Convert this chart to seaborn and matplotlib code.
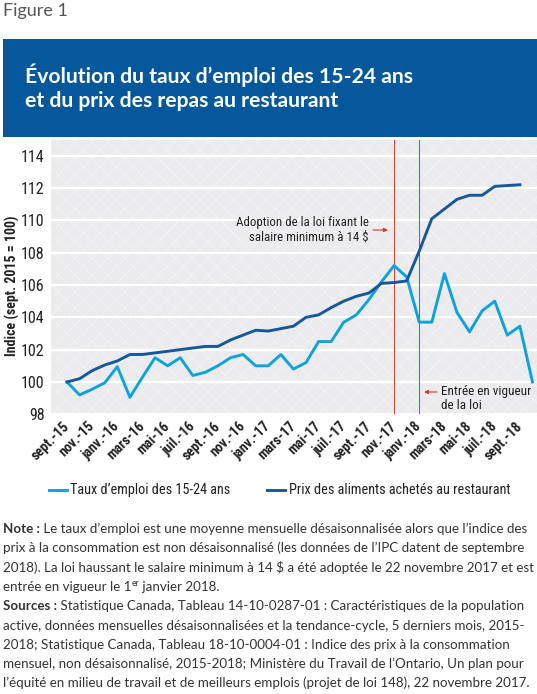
import numpy as np
import pandas as pd
import matplotlib
matplotlib.use("Agg")
import matplotlib.pyplot as plt
import seaborn as sns
from matplotlib import font_manager as fm
from matplotlib.lines import Line2D
from matplotlib.patches import Rectangle

# ---------------- data ----------------
tick_labels = ["sept.-15", "nov.-15", "janv.-16", "mars-16", "mai-16", "juil.-16",
               "sept.-16", "nov.-16", "janv.-17", "mars-17", "mai-17", "juil.-17",
               "sept.-17", "nov.-17", "janv.-18", "mars-18", "mai-18", "juil.-18",
               "sept.-18"]

# Taux d'emploi des 15-24 ans (sept. 2015 -> oct. 2018)
emploi = [100.0, 99.2, 99.55, 99.95, 100.95, 99.05, 100.3, 101.5, 101.0, 101.5,
          100.4, 100.6, 101.0, 101.5, 101.7, 101.0, 101.0, 101.7, 100.8, 101.2,
          102.5, 102.5, 103.7, 104.15, 105.1, 106.2, 107.2, 106.5, 103.7, 103.7,
          106.7, 104.3, 103.1, 104.4, 105.0, 102.9, 103.45, 100.0]

# Prix des aliments achetés au restaurant (sept. 2015 -> sept. 2018)
prix = [100.0, 100.2, 100.7, 101.05, 101.3, 101.7, 101.7, 101.8, 101.9, 102.0,
        102.1, 102.2, 102.2, 102.6, 102.9, 103.2, 103.15, 103.3, 103.45, 104.0,
        104.15, 104.6, 105.0, 105.3, 105.5, 106.1, 106.15, 106.25, 108.1, 110.1,
        110.7, 111.3, 111.55, 111.55, 112.1, 112.15, 112.2]

serie_emploi = "Taux d’emploi des 15-24 ans"
serie_prix = "Prix des aliments achetés au restaurant"

event_adoption = 26   # nov.-17
event_vigueur = 28    # janv.-18

# ---------------- fonts ----------------
names = {f.name for f in fm.fontManager.ttflist}
def pick(*cands):
    for c in cands:
        if c in names:
            return c
    return "DejaVu Sans"

COND = pick("Roboto Condensed", "Liberation Sans Narrow", "DejaVu Sans")
BODY = pick("Lato", "Open Sans", "DejaVu Sans")

W, H = 537, 694
fig = plt.figure(figsize=(W / 100, H / 100), dpi=100)
fig.patch.set_facecolor("white")
renderer = fig.canvas.get_renderer()

def fx(x):
    return x / W
def fy(y_top):
    return 1 - y_top / H

def text_width(txt, size, weight="normal", family=BODY):
    t = fig.text(0, 0, txt, fontsize=size, fontweight=weight, family=family, parse_math=False)
    w = t.get_window_extent(renderer).width
    t.remove()
    return w

def fit_size(txt, target_px, weight="normal", family=BODY, ref=10.0):
    return ref * target_px / text_width(txt, ref, weight, family)

# ---------------- axes ----------------
ax_l, ax_r, ax_t, ax_b = 51, 537, 139.5, 414.3
ax = fig.add_axes([fx(ax_l), fy(ax_b), (ax_r - ax_l) / W, (ax_b - ax_t) / H])
ax.set_facecolor("#ebebed")
plt.rcParams["hatch.linewidth"] = 0.5
bg = Rectangle((0, 0), 1, 1, transform=ax.transAxes, facecolor="#ebebed",
               edgecolor="#f4f4f5", hatch="xx", lw=0, zorder=0)
ax.add_patch(bg)

df = pd.concat([
    pd.DataFrame({"mois": np.arange(len(emploi)), "indice": emploi, "serie": serie_emploi}),
    pd.DataFrame({"mois": np.arange(len(prix)), "indice": prix, "serie": serie_prix}),
])
palette = {serie_emploi: "#0ea2dd", serie_prix: "#15599a"}
sns.lineplot(data=df, x="mois", y="indice", hue="serie", palette=palette,
             linewidth=2.1, legend=False, ax=ax, estimator=None, sort=False, zorder=3)

red = "#cf3a2e"
ax.axvline(event_adoption, color=red, lw=0.7, zorder=2.5)
ax.axvline(event_vigueur, color=red, lw=0.7, zorder=2.5)

s = 12.58
ax.set_xlim((ax_l - 67) / s, (ax_r - 67) / s)
ax.set_ylim(98, 115)
ax.set_yticks(np.arange(98, 115, 2))
ax.set_xticks(np.arange(0, 37, 2))
ax.set_xticklabels(tick_labels)
ax.set_axisbelow(True)
ax.yaxis.grid(True, color="white", lw=1.6)
ax.xaxis.grid(False)
for sp in ax.spines.values():
    sp.set_visible(False)
ax.tick_params(axis="both", length=0)
ax.tick_params(axis="y", pad=4.5, labelsize=11.5, labelcolor="#222222")
ax.tick_params(axis="x", pad=7, labelsize=10, labelcolor="#222222")
for t in ax.get_yticklabels():
    t.set_fontfamily(COND); t.set_fontstretch("condensed")
for t in ax.get_xticklabels():
    t.set_fontfamily(COND); t.set_fontstretch("condensed"); t.set_fontweight("bold")
    t.set_rotation(45); t.set_ha("right"); t.set_rotation_mode("anchor"); t.set_va("center")
ax.set_xlabel("")
ax.set_ylabel("")

# y label
fig.text(fx(12), fy(286), "Indice (sept. 2015 = 100)", rotation=90, ha="center", va="center",
         fontsize=10, fontweight="bold", family=COND, stretch="condensed", color="#222222")

# annotations
fig.text(fx(369), fy(230), "Adoption de la loi fixant le\nsalaire minimum à 14 $", ha="right",
         va="center", fontsize=9.3, family=COND, stretch="condensed", color="#222222",
         linespacing=1.15, parse_math=False)
fig.text(fx(441), fy(398.5), "Entrée en vigueur\nde la loi", ha="left", va="center",
         fontsize=9.5, family=COND, stretch="condensed", color="#222222",
         linespacing=1.15, parse_math=False)
ap = dict(arrowstyle="-|>", color=red, lw=0.8, mutation_scale=6, shrinkA=0, shrinkB=0)
fig.add_artist(matplotlib.patches.FancyArrowPatch((373, H - 230), (388, H - 230),
               transform=None, **ap))
fig.add_artist(matplotlib.patches.FancyArrowPatch((437, H - 392), (424, H - 392),
               transform=None, **ap))

# ---------------- header ----------------
fig_size = fit_size("Figure 1", 65)
fig.text(fx(3), fy(16), "Figure 1", ha="left", va="baseline", fontsize=fig_size,
         family=BODY, color="#555555")
fig.add_artist(Rectangle((fx(2.7), fy(136.7)), 1 - fx(2.7), (136.7 - 39.3) / H,
                         transform=fig.transFigure, facecolor="#03589b", edgecolor="none"))
title1 = "Évolution du taux d’emploi des 15-24 ans"
title2 = "et du prix des repas au restaurant"
tsize = fit_size(title1, 388, weight="bold")
fig.text(fx(25), fy(83.3), title1, ha="left", va="baseline", fontsize=tsize,
         fontweight="bold", family=BODY, color="white")
fig.text(fx(25), fy(107.3), title2, ha="left", va="baseline", fontsize=tsize,
         fontweight="bold", family=BODY, color="white")

# ---------------- legend ----------------
ly = 490
fig.add_artist(Line2D([fx(49), fx(67)], [fy(ly), fy(ly)], transform=fig.transFigure,
                      color=palette[serie_emploi], lw=2.1))
fig.text(fx(70), fy(ly), serie_emploi, ha="left", va="center", fontsize=10.3,
         family=COND, stretch="condensed", color="#222222")
fig.add_artist(Line2D([fx(267), fx(285)], [fy(ly), fy(ly)], transform=fig.transFigure,
                      color=palette[serie_prix], lw=2.1))
fig.text(fx(289), fy(ly), serie_prix, ha="left", va="center", fontsize=10.3,
         family=COND, stretch="condensed", color="#222222")

# ---------------- notes ----------------
lines = [
    [("Note :", {"weight": "bold"}), (" Le taux d’emploi est une moyenne mensuelle désaisonnalisée alors que l’indice des", {})],
    [("prix à la consommation est non désaisonnalisé (les données de l’IPC datent de septembre", {})],
    [("2018). La loi haussant le salaire minimum à 14 $ a été adoptée le 22 novembre 2017 et est", {})],
    [("entrée en vigueur le 1", {}), ("er", {"scale": 0.65, "dy": 4.5}), (" janvier 2018.", {})],
    [("Sources :", {"weight": "bold"}), (" Statistique Canada, Tableau 14-10-0287-01 : Caractéristiques de la population", {})],
    [("active, données mensuelles désaisonnalisées et la tendance-cycle, 5 derniers mois, 2015-", {})],
    [("2018; Statistique Canada, Tableau 18-10-0004-01 : Indice des prix à la consommation", {})],
    [("mensuel, non désaisonnalisé, 2015-2018; Ministère du Travail de l’Ontario, Un plan pour", {})],
    [("l’équité en milieu de travail et de meilleurs emplois (projet de loi 148), 22 novembre 2017.", {})],
]

def line_width(parts, size):
    return sum(text_width(txt, size * kw.get("scale", 1), kw.get("weight", "normal"))
               for txt, kw in parts)

widest = max(line_width(p, 10.0) for p in lines)
NS = 10.0 * 529 / widest

def runs(x, y, parts):
    for txt, kw in parts:
        size = NS * kw.get("scale", 1)
        dy = kw.get("dy", 0)
        t = fig.text(fx(x), fy(y - dy), txt, ha="left", va="baseline", fontsize=size,
                     fontweight=kw.get("weight", "normal"), family=BODY,
                     color="#333333", parse_math=False)
        x += t.get_window_extent(renderer).width

y0 = 533
for i, parts in enumerate(lines):
    runs(3, y0 + i * 19.3, parts)

fig.savefig("out.png", dpi=100)
